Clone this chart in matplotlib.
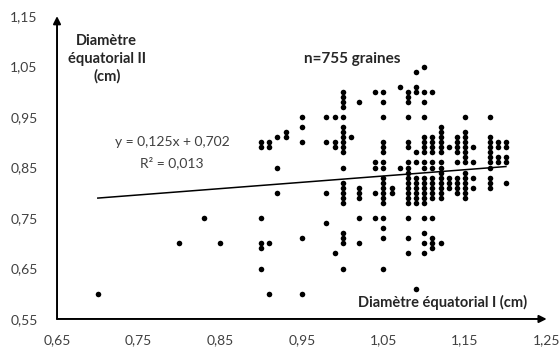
import numpy as np
import matplotlib.pyplot as plt

plt.rcParams['font.family'] = ['Lato', 'DejaVu Sans']

# columns of seeds: diameter I -> list of diameter II values (visible points)
columns = {
    0.70: [0.60],
    0.80: [0.70],
    0.83: [0.75],
    0.85: [0.70],
    0.90: [0.90, 0.89, 0.75, 0.70, 0.69, 0.65],
    0.91: [0.90, 0.89, 0.70, 0.60],
    0.92: [0.91, 0.85, 0.80],
    0.93: [0.92, 0.91],
    0.95: [0.95, 0.93, 0.90, 0.71, 0.60],
    0.98: [0.95, 0.90, 0.80, 0.74],
    0.99: [0.95, 0.90, 0.89, 0.68],
    1.00: [1.00, 0.99, 0.98, 0.97, 0.95, 0.93, 0.92, 0.91, 0.90, 0.89, 0.88,
           0.85, 0.82, 0.81, 0.80, 0.79, 0.78, 0.72, 0.71, 0.70, 0.65],
    1.01: [0.91],
    1.02: [0.98, 0.81, 0.80, 0.79, 0.75, 0.70],
    1.04: [1.00, 0.86, 0.85, 0.80, 0.75],
    1.05: [1.00, 0.98, 0.95, 0.90, 0.89, 0.88, 0.86, 0.85, 0.83, 0.82, 0.81,
           0.80, 0.79, 0.78, 0.75, 0.73, 0.71, 0.65],
    1.06: [0.81, 0.80],
    1.07: [1.01, 0.85],
    1.08: [1.00, 0.99, 0.98, 0.95, 0.90, 0.89, 0.86, 0.85, 0.84, 0.83, 0.82,
           0.81, 0.80, 0.79, 0.78, 0.75, 0.71, 0.68],
    1.09: [1.04, 1.01, 1.00, 0.88, 0.86, 0.83, 0.82, 0.81, 0.80, 0.79, 0.78, 0.61],
    1.10: [1.05, 1.00, 0.98, 0.95, 0.91, 0.90, 0.89, 0.88, 0.86, 0.85, 0.83,
           0.82, 0.81, 0.80, 0.79, 0.78, 0.75, 0.72, 0.70, 0.68],
    1.11: [1.00, 0.91, 0.90, 0.89, 0.88, 0.86, 0.85, 0.83, 0.82, 0.81, 0.80,
           0.79, 0.75, 0.71, 0.70, 0.69],
    1.12: [0.93, 0.92, 0.91, 0.90, 0.89, 0.88, 0.86, 0.85, 0.84, 0.83, 0.82,
           0.81, 0.80, 0.79, 0.70],
    1.13: [0.89, 0.83, 0.82, 0.81],
    1.14: [0.91, 0.90, 0.89, 0.88, 0.86, 0.83, 0.82, 0.81, 0.80],
    1.15: [0.95, 0.92, 0.91, 0.90, 0.89, 0.88, 0.87, 0.86, 0.84, 0.83, 0.82,
           0.81, 0.80, 0.79],
    1.16: [0.89, 0.86, 0.83, 0.81],
    1.18: [0.95, 0.91, 0.90, 0.89, 0.88, 0.87, 0.86, 0.85, 0.83, 0.82, 0.81],
    1.19: [0.90, 0.89, 0.87, 0.86],
    1.20: [0.90, 0.89, 0.87, 0.86, 0.82],
}

slope = 0.125
intercept = 0.702
r2 = 0.013
n_seeds = 755

x_ticks = [0.65, 0.75, 0.85, 0.95, 1.05, 1.15, 1.25]
y_ticks = [0.55, 0.65, 0.75, 0.85, 0.95, 1.05, 1.15]

xs = np.array([x for x, ys in columns.items() for _ in ys])
ys = np.array([y for x, col in columns.items() for y in col])

fig = plt.figure(figsize=(5.59, 3.58), dpi=100)
ax = fig.add_axes([0.102, 0.109, 0.876, 0.846])

ax.scatter(xs, ys, s=16, color='black', linewidths=0, zorder=3)

line_x = np.array([xs.min(), xs.max()])
ax.plot(line_x, slope * line_x + intercept, color='black', lw=1.1, zorder=2)

ax.set_xlim(0.65, 1.25)
ax.set_ylim(0.55, 1.15)
ax.set_xticks(x_ticks)
ax.set_yticks(y_ticks)
ax.set_xticklabels([f'{v:.2f}'.replace('.', ',') for v in x_ticks])
ax.set_yticklabels([f'{v:.2f}'.replace('.', ',') for v in y_ticks])
ax.tick_params(length=0, labelsize=10, labelcolor='#404040')
ax.tick_params(axis='x', pad=11)
ax.tick_params(axis='y', pad=14)

for s in ax.spines.values():
    s.set_visible(False)

# axes drawn as arrows
arrow = dict(arrowstyle='-|>', lw=1.4, color='black', mutation_scale=11,
             shrinkA=0, shrinkB=0)
ax.annotate('', xy=(0, 1.0), xytext=(0, 0), xycoords='axes fraction',
            arrowprops=arrow, annotation_clip=False)
ax.annotate('', xy=(1.0, 0), xytext=(0, 0), xycoords='axes fraction',
            arrowprops=arrow, annotation_clip=False)

ax.text(0.711, 1.065, 'Diamètre\néquatorial II\n(cm)', ha='center', va='center',
        fontsize=10.5, fontweight='bold', color='#262626', linespacing=1.3)
ax.text(1.226, 0.582, 'Diamètre équatorial I (cm)', ha='right', va='center',
        fontsize=10.5, fontweight='bold', color='#262626')
ax.text(1.012, 1.065, f'n={n_seeds} graines', ha='center', va='center',
        fontsize=11, fontweight='bold', color='#262626')
ax.text(0.791, 0.90, f'y = {slope:.3f}x + {intercept:.3f}'.replace('.', ','),
        ha='center', va='center', fontsize=10, color='#404040')
ax.text(0.791, 0.86, f'R² = {r2:.3f}'.replace('.', ','),
        ha='center', va='center', fontsize=10, color='#404040')

fig.savefig('out.png', dpi=100)
